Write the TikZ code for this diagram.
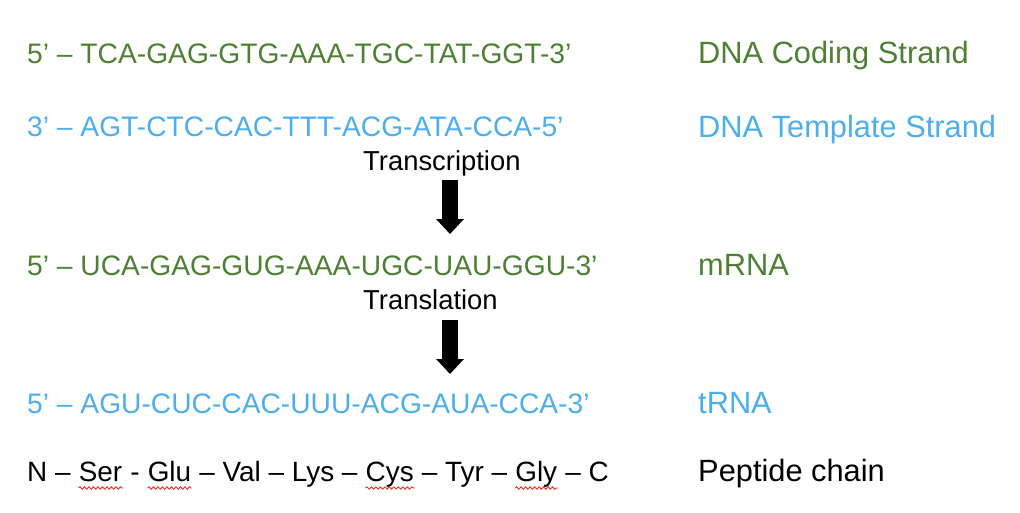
\documentclass[tikz,border=0pt]{standalone}
\usepackage{fontspec}
\setmainfont{Liberation Sans}
\usetikzlibrary{arrows.meta,decorations.pathmorphing}
\definecolor{dnagreen}{HTML}{4F7F35}
\definecolor{dnablue}{HTML}{4DAEEA}
\definecolor{spellred}{HTML}{E8302A}
\tikzset{
  seq/.style={anchor=base west, inner sep=0pt, font=\fontsize{28.2}{30}\selectfont},
  lbl/.style={anchor=base west, inner sep=0pt, font=\fontsize{30.8}{33}\selectfont},
  proc/.style={anchor=base west, inner sep=0pt, font=\fontsize{27.4}{30}\selectfont},
  pep/.style={anchor=base west, inner sep=0pt, font=\fontsize{27.9}{30}\selectfont},
  bigarrow/.style={line width=16pt, -{Triangle[width=27pt,length=15pt]}},
  squig/.style={spellred, line width=0.9pt, decorate, decoration={snake, amplitude=1.2pt, segment length=4.5pt}}
}
\newcommand{\pepgap}{\ \kern0pt}
\begin{document}
\begin{tikzpicture}[x=1pt,y=-1pt]
\useasboundingbox (0,0) rectangle (1020,512);
% left sequences
\node[seq, dnagreen] (coding) at (27,63) {5’ – TCA-GAG-GTG-AAA-TGC-TAT-GGT-3’};
\node[seq, dnablue] (template) at (27,136) {3’ – AGT-CTC-CAC-TTT-ACG-ATA-CCA-5’};
\node[proc] (trc) at (363,170) {Transcription};
\node[seq, dnagreen] (mrna) at (27,275) {5’ – UCA-GAG-GUG-AAA-UGC-UAU-GGU-3’};
\node[proc] (trl) at (363,309) {Translation};
\node[seq, dnablue] (trna) at (27,413) {5’ – AGU-CUC-CAC-UUU-ACG-AUA-CCA-3’};
% peptide chain
\node[pep] (p1) at (27,481) {N –\pepgap};
\node[pep] (ser) at (p1.base east) {Ser};
\node[pep] (p2) at (ser.base east) {\kern0pt\ -\pepgap};
\node[pep] (glu) at (p2.base east) {Glu};
\node[pep] (p3) at (glu.base east) {\kern0pt\ – Val – Lys –\pepgap};
\node[pep] (cys) at (p3.base east) {Cys};
\node[pep] (p4) at (cys.base east) {\kern0pt\ – Tyr –\pepgap};
\node[pep] (gly) at (p4.base east) {Gly};
\node[pep] (p5) at (gly.base east) {\kern0pt\ – C};
\foreach \w in {ser,glu,cys,gly}{
  \draw[squig] ([yshift=-7pt]\w.base west) -- ([yshift=-7pt,xshift=1pt]\w.base east);
}
% right labels
\node[lbl, dnagreen] (lcoding) at (698,63) {DNA Coding Strand};
\node[lbl, dnablue] (ltemplate) at (698,137) {DNA Template Strand};
\node[lbl, dnagreen] (lmrna) at (698,275) {mRNA};
\node[lbl, dnablue] (ltrna) at (698,413) {tRNA};
\node[lbl] (lpep) at (698,481) {Peptide chain};
% arrows
\coordinate (a1s) at (450,180);
\coordinate (a1e) at (450,234);
\coordinate (a2s) at (450,320);
\coordinate (a2e) at (450,374);
\draw[bigarrow] (a1s) -- (a1e);
\draw[bigarrow] (a2s) -- (a2e);
\end{tikzpicture}
\end{document}
